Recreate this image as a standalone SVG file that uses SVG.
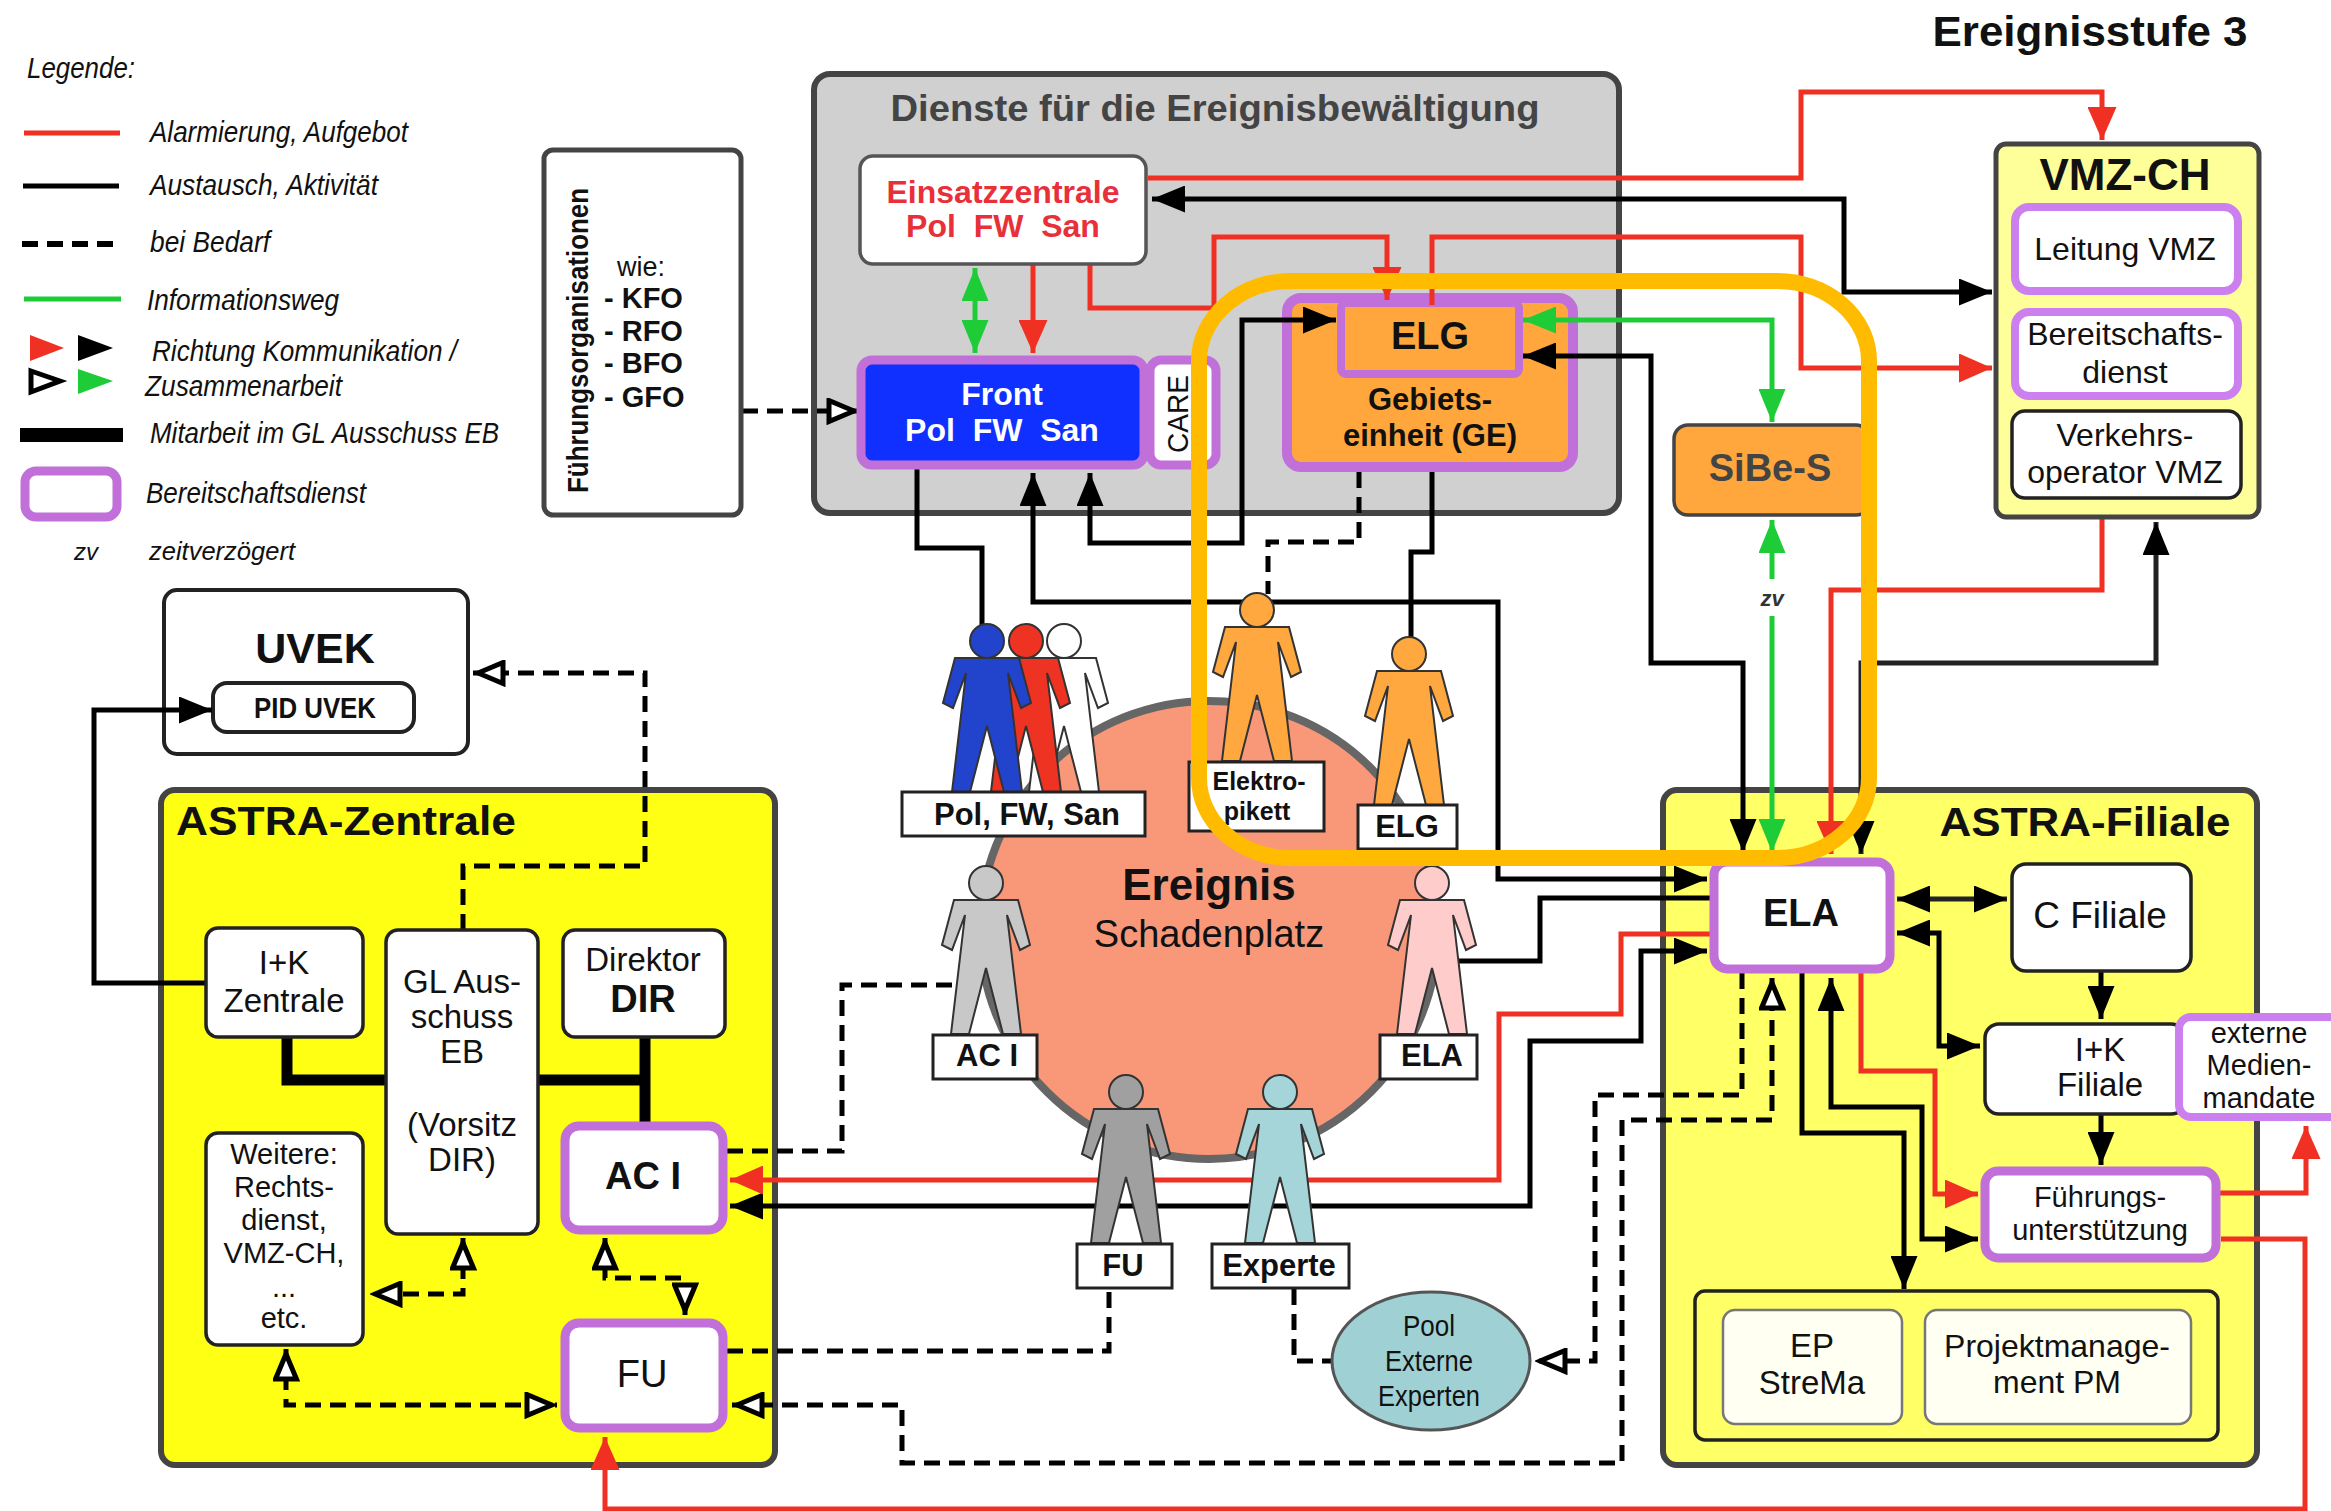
<svg xmlns="http://www.w3.org/2000/svg" xmlns:xlink="http://www.w3.org/1999/xlink" width="2331" height="1511" viewBox="0 0 2331 1511">
<style>
text{font-family:"Liberation Sans",Arial,sans-serif;fill:#111;text-anchor:middle}
.b{font-weight:700}
.l{font-style:italic;font-size:29px;text-anchor:start}
.s{fill:#fff;stroke:#222;stroke-width:3.5}
.p{fill:#fff;stroke:#c070d8;stroke-width:9}
.pl{fill:#fff;stroke:#cc80f0;stroke-width:8}
.lab{fill:#fff;stroke:#222;stroke-width:3}
.panel{stroke:#444;stroke-width:6}
.k,.kd,.r,.g,.th{fill:none;stroke-linejoin:miter}
.k{stroke:#000;stroke-width:5}
.kd{stroke:#000;stroke-width:5;stroke-dasharray:16 9}
.r{stroke:#f03022;stroke-width:5}
.g{stroke:#1ecc38;stroke-width:5}
.th{stroke:#000;stroke-width:11}
.m1{font-size:33px}.m2{font-size:29px}.t38{font-size:38px}.t30{font-size:31px}
.fig{stroke:#333;stroke-width:2}
</style>
<defs>
<marker id="ak" viewBox="0 0 33 27" refX="33" refY="13.5" markerUnits="userSpaceOnUse" markerWidth="33" markerHeight="27" orient="auto-start-reverse"><polygon points="0,0 33,13.5 0,27" fill="#000"/></marker>
<marker id="ar" viewBox="0 0 33 29" refX="33" refY="14.5" markerUnits="userSpaceOnUse" markerWidth="33" markerHeight="29" orient="auto-start-reverse"><polygon points="0,0 33,14.5 0,29" fill="#f03022"/></marker>
<marker id="ag" viewBox="0 0 33 27" refX="33" refY="13.5" markerUnits="userSpaceOnUse" markerWidth="33" markerHeight="27" orient="auto-start-reverse"><polygon points="0,0 33,13.5 0,27" fill="#1ecc38"/></marker>
<marker id="ao" viewBox="0 0 33 27" refX="33" refY="13.5" markerUnits="userSpaceOnUse" markerWidth="33" markerHeight="27" orient="auto-start-reverse"><polygon points="3,3 28,13.5 3,24" fill="#fff" stroke="#000" stroke-width="5"/></marker>
<g id="person"><path class="fig" d="M-32,17 L32,17 L44,62 L34,67 L21,32 L35,151 L17,151 L0,85 L-17,151 L-35,151 L-21,32 L-34,67 L-44,62 Z"/><circle class="fig" cx="0" cy="0" r="17"/></g>
</defs>
<rect width="2331" height="1511" fill="#fff"/>

<g id="title"><text class="b" x="2090" y="46" font-size="42" textLength="315" lengthAdjust="spacingAndGlyphs">Ereignisstufe 3</text></g>

<g id="legend">
<text class="l" x="27" y="78" textLength="108" lengthAdjust="spacingAndGlyphs">Legende:</text>
<path d="M24,133H120" stroke="#f03022" stroke-width="5"/>
<path d="M23,186H119" stroke="#000" stroke-width="5"/>
<path d="M22,244H118" stroke="#000" stroke-width="6" stroke-dasharray="16 9"/>
<path d="M24,299H121" stroke="#1ecc38" stroke-width="5"/>
<polygon points="30,335 64,348 30,361" fill="#f03022"/>
<polygon points="78,335 113,348 78,361" fill="#000"/>
<polygon points="31,371 60,381 31,392" fill="#fff" stroke="#000" stroke-width="5"/>
<polygon points="78,369 113,381 78,394" fill="#1ecc38"/>
<path d="M20,435H123" stroke="#000" stroke-width="14"/>
<rect x="25" y="471" width="92" height="46" rx="11" class="p"/>
<text class="l" x="150" y="142" textLength="258" lengthAdjust="spacingAndGlyphs">Alarmierung, Aufgebot</text>
<text class="l" x="150" y="195" textLength="228" lengthAdjust="spacingAndGlyphs">Austausch, Aktivität</text>
<text class="l" x="150" y="252" textLength="120" lengthAdjust="spacingAndGlyphs">bei Bedarf</text>
<text class="l" x="147" y="310" textLength="192" lengthAdjust="spacingAndGlyphs">Informationsweg</text>
<text class="l" x="152" y="361" textLength="305" lengthAdjust="spacingAndGlyphs">Richtung Kommunikation /</text>
<text class="l" x="145" y="396" textLength="197" lengthAdjust="spacingAndGlyphs">Zusammenarbeit</text>
<text class="l" x="150" y="443" textLength="349" lengthAdjust="spacingAndGlyphs">Mitarbeit im GL Ausschuss EB</text>
<text class="l" x="146" y="503" textLength="220" lengthAdjust="spacingAndGlyphs">Bereitschaftsdienst</text>
<text class="l" x="74" y="560" style="font-size:24px">zv</text>
<text class="l" x="149" y="560" style="font-size:25px" textLength="146" lengthAdjust="spacingAndGlyphs">zeitverzögert</text>
</g>

<g id="dienste-panel"><rect x="814" y="74" width="805" height="439" rx="16" fill="#d0d0d0" class="panel"/>
<text class="b" x="1215" y="121" font-size="36" textLength="649" lengthAdjust="spacingAndGlyphs" style="fill:#444">Dienste für die Ereignisbewältigung</text></g>
<g id="astra-zentrale-panel"><rect x="161" y="790" width="614" height="675" rx="14" fill="#ffff14" class="panel"/>
<text class="b" x="346" y="835" font-size="41" textLength="340" lengthAdjust="spacingAndGlyphs">ASTRA-Zentrale</text></g>
<g id="astra-filiale-panel"><rect x="1663" y="790" width="594" height="675" rx="14" fill="#ffff66" class="panel"/>
<text class="b" x="2085" y="836" font-size="41" textLength="291" lengthAdjust="spacingAndGlyphs">ASTRA-Filiale</text></g>
<g id="ereignis-circle"><circle cx="1209" cy="930" r="229" fill="#f89878" stroke="#666" stroke-width="8"/></g>

<g id="uvek"><rect x="164" y="590" width="304" height="164" rx="13" class="s" style="stroke-width:4"/>
<text class="b" x="315" y="663" font-size="43">UVEK</text>
<rect x="213" y="683" width="201" height="49" rx="14" class="s" style="stroke-width:4"/>
<text class="b" x="315" y="718" font-size="30" textLength="122" lengthAdjust="spacingAndGlyphs">PID UVEK</text></g>
<g id="gebietseinheit"><rect x="1287" y="298" width="286" height="169" rx="14" fill="#ffa73c" stroke="#c070d8" stroke-width="10"/>
<rect x="1341" y="303" width="178" height="71" rx="5" fill="#ffa73c" stroke="#c070d8" stroke-width="8"/>
<text class="b t38" x="1430" y="349">ELG</text>
<text class="b" x="1430" y="410" font-size="31">Gebiets-</text>
<text class="b" x="1430" y="446" font-size="31">einheit (GE)</text></g>

<g id="connectors">
<path class="th" d="M287,1037V1080H386"/>
<path class="th" d="M538,1080H645"/>
<path class="th" d="M645,1037V1122"/>
<path class="k" marker-end="url(#ak)" d="M206,983H94V710H212"/>
<path class="k" marker-start="url(#ak)" marker-end="url(#ak)" d="M1992,292H1844V199H1152"/>
<path class="k" marker-start="url(#ak)" marker-end="url(#ak)" d="M1090,473V543H1242V320H1336"/>
<path class="k" marker-start="url(#ak)" marker-end="url(#ak)" d="M1033,473V602H1498V879H1707"/>
<path class="k" d="M917,469V548H982V625"/>
<path class="k" d="M1432,472V552H1411V637"/>
<path class="k" marker-start="url(#ak)" marker-end="url(#ak)" d="M1523,356H1651V663H1743V852"/>
<path class="k" marker-start="url(#ak)" marker-end="url(#ak)" d="M2156,522V663H1861V854" style="stroke:#222"/>
<path class="k" d="M1710,898H1540V961H1453"/>
<path class="k" marker-start="url(#ak)" marker-end="url(#ak)" d="M730,1206H1530V1041H1641V951H1707"/>
<path class="k" marker-start="url(#ak)" marker-end="url(#ak)" d="M1897,899H2007" style="stroke:#222"/>
<path class="k" marker-start="url(#ak)" marker-end="url(#ak)" d="M1897,933H1939V1046H1980"/>
<path class="k" marker-end="url(#ak)" d="M2101,971V1019"/>
<path class="k" marker-end="url(#ak)" d="M2101,1114V1165"/>
<path class="k" marker-start="url(#ak)" marker-end="url(#ak)" d="M1831,978V1107H1922V1239H1978"/>
<path class="k" marker-end="url(#ak)" d="M1802,973V1133H1904V1289"/>
<path class="r" marker-end="url(#ar)" d="M1148,178H1801V92H2102V140"/>
<path class="r" marker-end="url(#ar)" d="M1432,305V237H1801V368H1992"/>
<path class="r" marker-end="url(#ar)" d="M1090,264V308H1214V237H1387V300"/>
<path class="r" marker-end="url(#ar)" d="M1033,264V353"/>
<path class="r" marker-end="url(#ar)" d="M2102,519V590H1831V854"/>
<path class="r" marker-end="url(#ar)" d="M1710,934H1621V1014H1499V1180H730"/>
<path class="r" marker-end="url(#ar)" d="M1861,973V1071H1935V1194H1978"/>
<path class="r" marker-end="url(#ar)" d="M2220,1193H2306V1126"/>
<path class="r" marker-end="url(#ar)" d="M2221,1239H2305V1509H605V1437"/>
<path class="g" marker-start="url(#ag)" marker-end="url(#ag)" d="M975,268V353"/>
<path class="g" marker-start="url(#ag)" marker-end="url(#ag)" d="M1523,320H1772V422"/>
<path class="g" marker-start="url(#ag)" d="M1772,520V579"/>
<path class="g" marker-end="url(#ag)" d="M1772,616V852"/>
<path class="kd" marker-end="url(#ao)" d="M742,411H859"/>
<path class="kd" marker-end="url(#ao)" d="M463,930V866H645V673H473"/>
<path class="kd" marker-start="url(#ao)" marker-end="url(#ao)" d="M463,1238V1294H370"/>
<path class="kd" marker-start="url(#ao)" marker-end="url(#ao)" d="M605,1238V1278H685V1315"/>
<path class="kd" marker-start="url(#ao)" marker-end="url(#ao)" d="M286,1349V1405H557"/>
<path class="kd" d="M727,1151H842V985H959"/>
<path class="kd" d="M727,1351H1109V1289"/>
<path class="kd" marker-start="url(#ao)" marker-end="url(#ao)" d="M732,1405H902V1463H1622V1120H1772V978"/>
<path class="kd" marker-end="url(#ao)" d="M1742,973V1095H1595V1361H1535"/>
<path class="kd" d="M1294,1289V1361H1331"/>
<path class="kd" d="M1359,472V542H1268V594"/>
</g>

<g id="fuehrungsorg"><rect x="544" y="150" width="197" height="365" rx="9" fill="#fff" stroke="#444" stroke-width="5"/>
<text class="b" x="588" y="493" font-size="30" textLength="305" lengthAdjust="spacingAndGlyphs" transform="rotate(-90 588 493)" style="text-anchor:start">Führungsorganisationen</text>
<text x="641" y="276" font-size="27">wie:</text>
<text class="b" x="604" y="308" font-size="29" style="text-anchor:start">- KFO</text>
<text class="b" x="604" y="341" font-size="29" style="text-anchor:start">- RFO</text>
<text class="b" x="604" y="373" font-size="29" style="text-anchor:start">- BFO</text>
<text class="b" x="604" y="407" font-size="29" style="text-anchor:start">- GFO</text></g>

<g id="einsatzzentrale"><rect x="860" y="156" width="286" height="108" rx="13" fill="#fff" stroke="#555" stroke-width="3.5"/>
<text class="b" x="1003" y="203" font-size="32" style="fill:#e8303a">Einsatzzentrale</text>
<text class="b" x="1003" y="237" font-size="32" xml:space="preserve" style="fill:#e8303a">Pol  FW  San</text></g>
<g id="front"><rect x="861" y="360" width="283" height="105" rx="11" fill="#1030ff" stroke="#c070d8" stroke-width="9"/>
<text class="b" x="1002" y="405" font-size="32" style="fill:#fff">Front</text>
<text class="b" x="1002" y="441" font-size="32" xml:space="preserve" style="fill:#fff">Pol  FW  San</text></g>
<g id="care"><rect x="1150" y="360" width="66" height="105" rx="11" class="p"/>
<text x="1188" y="414" font-size="30" textLength="78" lengthAdjust="spacingAndGlyphs" transform="rotate(-90 1188 414)">CARE</text></g>
<g id="sibe-s"><rect x="1674" y="425" width="196" height="90" rx="14" fill="#ffa73c" stroke="#444" stroke-width="3.5"/>
<text class="b t38" x="1770" y="481" style="fill:#444">SiBe-S</text></g>

<g id="vmz-ch"><rect x="1996" y="144" width="263" height="373" rx="10" fill="#ffff99" class="panel" style="stroke-width:5"/>
<text class="b" x="2125" y="190" font-size="44">VMZ-CH</text>
<rect x="2015" y="207" width="223" height="84" rx="14" class="pl"/>
<text class="m1" x="2125" y="260" style="font-size:32px">Leitung VMZ</text>
<rect x="2015" y="312" width="223" height="84" rx="14" class="pl"/>
<text class="m1" x="2125" y="345" style="font-size:32px">Bereitschafts-</text>
<text class="m1" x="2125" y="383" style="font-size:32px">dienst</text>
<rect x="2012" y="411" width="229" height="87" rx="13" class="s"/>
<text class="m1" x="2125" y="446" style="font-size:32px">Verkehrs-</text>
<text class="m1" x="2125" y="483" style="font-size:32px">operator VMZ</text></g>

<g id="ik-zentrale"><rect x="206" y="928" width="157" height="109" rx="12" class="s"/>
<text class="m1" x="284" y="974">I+K</text><text class="m1" x="284" y="1012">Zentrale</text></g>
<g id="gl-ausschuss"><rect x="386" y="930" width="152" height="304" rx="12" class="s"/>
<text class="m1" x="462" y="993">GL Aus-</text><text class="m1" x="462" y="1028">schuss</text><text class="m1" x="462" y="1063">EB</text><text class="m1" x="462" y="1136">(Vorsitz</text><text class="m1" x="462" y="1171">DIR)</text></g>
<g id="direktor"><rect x="563" y="930" width="162" height="107" rx="12" class="s"/>
<text class="m1" x="643" y="971">Direktor</text><text class="b t38" x="643" y="1012">DIR</text></g>
<g id="ac1-zentrale"><rect x="565" y="1126" width="158" height="104" rx="14" class="p"/>
<text class="b t38" x="643" y="1189">AC I</text></g>
<g id="weitere"><rect x="206" y="1133" width="157" height="212" rx="12" class="s"/>
<text class="m2" x="284" y="1164">Weitere:</text><text class="m2" x="284" y="1197">Rechts-</text><text class="m2" x="284" y="1230">dienst,</text><text class="m2" x="284" y="1263">VMZ-CH,</text><text class="m2" x="284" y="1297">...</text><text class="m2" x="284" y="1328">etc.</text></g>
<g id="fu-zentrale"><rect x="565" y="1323" width="158" height="105" rx="14" class="p"/>
<text class="t38" x="642" y="1387">FU</text></g>

<g id="ereignis-text"><text class="b" x="1209" y="900" font-size="44">Ereignis</text>
<text x="1209" y="947" font-size="38">Schadenplatz</text></g>

<g id="person-polfwsan">
<use xlink:href="#person" href="#person" x="1064" y="641" fill="#fff"/>
<use xlink:href="#person" href="#person" x="1026" y="641" fill="#ee3322"/>
<use xlink:href="#person" href="#person" x="987" y="641" fill="#2244cc"/>
<rect x="902" y="792" width="243" height="44" class="lab"/><text class="b t30" x="1027" y="825">Pol, FW, San</text></g>
<g id="person-elektropikett"><use xlink:href="#person" href="#person" x="1257" y="610" fill="#ffa840"/>
<rect x="1189" y="762" width="135" height="69" class="lab"/>
<text class="b" x="1259" y="790" font-size="25">Elektro-</text><text class="b" x="1257" y="820" font-size="25">pikett</text></g>
<g id="person-elg"><use xlink:href="#person" href="#person" x="1409" y="654" fill="#ffa840"/>
<rect x="1358" y="805" width="99" height="44" class="lab"/><text class="b t30" x="1407" y="837">ELG</text></g>
<g id="person-aci"><use xlink:href="#person" href="#person" x="986" y="883" fill="#c8c8c8"/>
<rect x="933" y="1035" width="104" height="44" class="lab"/><text class="b t30" x="987" y="1066">AC I</text></g>
<g id="person-ela"><use xlink:href="#person" href="#person" x="1432" y="883" fill="#ffcccc"/>
<rect x="1380" y="1035" width="97" height="44" class="lab"/><text class="b t30" x="1432" y="1066">ELA</text></g>
<g id="person-fu"><use xlink:href="#person" href="#person" x="1126" y="1092" fill="#a0a0a0"/>
<rect x="1077" y="1244" width="95" height="44" class="lab"/><text class="b t30" x="1123" y="1276">FU</text></g>
<g id="person-experte"><use xlink:href="#person" href="#person" x="1280" y="1092" fill="#a5d5d8"/>
<rect x="1212" y="1244" width="137" height="44" class="lab"/><text class="b t30" x="1279" y="1276">Experte</text></g>
<g id="pool"><ellipse cx="1431" cy="1361" rx="99" ry="69" fill="#9fd0d3" stroke="#555" stroke-width="3"/>
<text x="1429" y="1336" font-size="30" textLength="52" lengthAdjust="spacingAndGlyphs">Pool</text>
<text x="1429" y="1371" font-size="30" textLength="88" lengthAdjust="spacingAndGlyphs">Externe</text>
<text x="1429" y="1406" font-size="30" textLength="102" lengthAdjust="spacingAndGlyphs">Experten</text></g>

<g id="ela"><rect x="1714" y="862" width="176" height="107" rx="13" class="p"/>
<text class="b t38" x="1801" y="926">ELA</text></g>
<g id="c-filiale"><rect x="2012" y="864" width="179" height="107" rx="14" class="s"/>
<text x="2100" y="928" font-size="37">C Filiale</text></g>
<g id="ik-filiale"><rect x="1985" y="1024" width="200" height="90" rx="14" class="s"/>
<text class="m1" x="2100" y="1061">I+K</text><text class="m1" x="2100" y="1096">Filiale</text></g>
<g id="externe"><rect x="2179" y="1017" width="170" height="100" rx="12" class="pl"/>
<text class="m2" x="2259" y="1043">externe</text><text class="m2" x="2259" y="1075">Medien-</text><text class="m2" x="2259" y="1108">mandate</text></g>
<g id="fuehrungsunterstuetzung"><rect x="1985" y="1171" width="231" height="87" rx="13" class="p"/>
<text class="m2" x="2100" y="1207">Führungs-</text><text class="m2" x="2100" y="1240">unterstützung</text></g>
<g id="projekte"><rect x="1695" y="1291" width="523" height="149" rx="10" fill="none" stroke="#222" stroke-width="3.5"/>
<rect x="1723" y="1310" width="179" height="114" rx="12" fill="#fffff2" stroke="#777" stroke-width="2.5"/>
<text class="m1" x="1812" y="1357">EP</text><text class="m1" x="1812" y="1394">StreMa</text>
<rect x="1925" y="1310" width="266" height="114" rx="12" fill="#fffff2" stroke="#777" stroke-width="2.5"/>
<text x="2057" y="1357" font-size="32">Projektmanage-</text><text x="2057" y="1393" font-size="32">ment PM</text></g>

<g id="zv-label"><text x="1772" y="606" font-size="22" style="font-style:italic;font-weight:700;fill:#333">zv</text></g>
<g id="highlight"><rect x="1199" y="281" width="670" height="577" rx="92" ry="80" fill="none" stroke="#ffbb00" stroke-width="16"/></g>
</svg>
